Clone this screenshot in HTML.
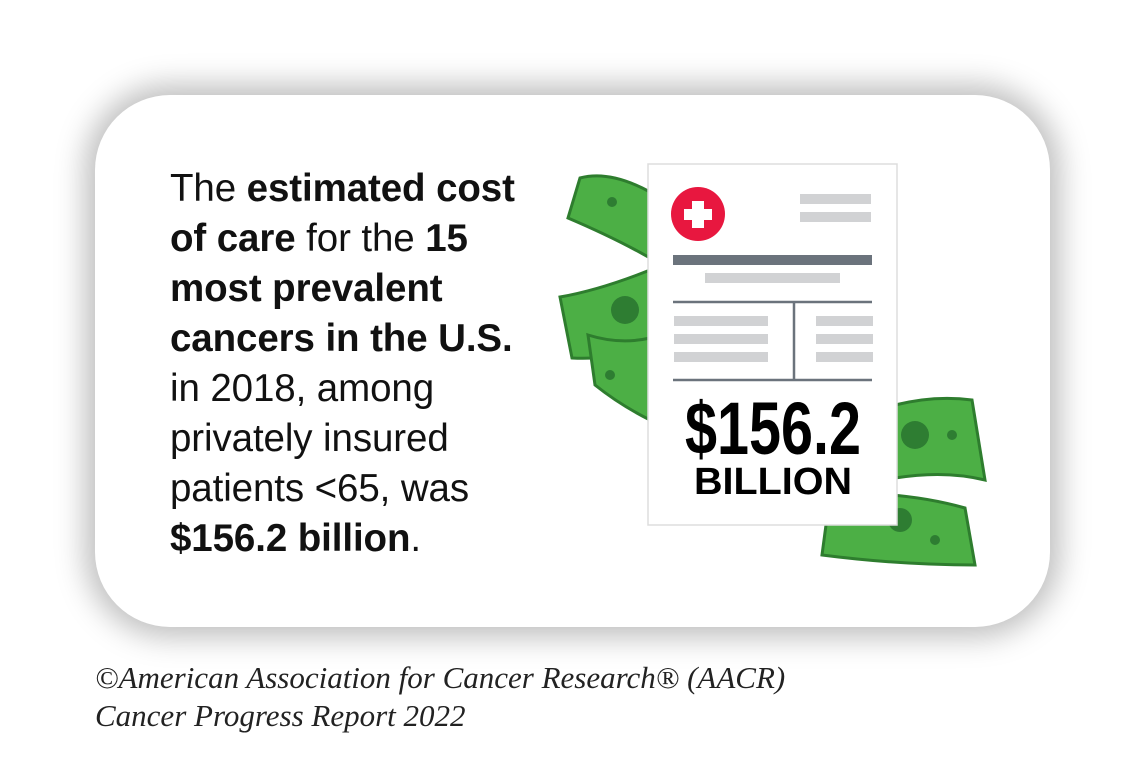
<!DOCTYPE html>
<html><head><style>
body{margin:0;width:1144px;height:769px;background:#fff;position:relative;overflow:hidden;font-family:"Liberation Sans",sans-serif}
.card{position:absolute;left:95px;top:95px;width:955px;height:532px;border-radius:75px;background:#fff;box-shadow:0 0 30px 10px rgba(0,0,0,0.26)}
.txt{position:absolute;left:170px;top:164px;font-size:38.5px;line-height:50px;color:#111;letter-spacing:-0.1px}
.txt b{font-weight:bold}
.cr{position:absolute;left:95px;top:659px;font-family:"Liberation Serif",serif;font-style:italic;font-size:31px;line-height:38px;color:#222}
svg{position:absolute;left:0;top:0}
</style></head><body>
<div class="card"></div>
<div class="txt">The <b>estimated cost<br>of care</b> for the <b>15<br>most prevalent<br>cancers in the U.S.</b><br>in 2018, among<br>privately insured<br>patients &lt;65, was<br><b>$156.2 billion</b>.</div>
<div class="cr">©American Association for Cancer Research® (AACR)<br>Cancer Progress Report 2022</div>
<svg width="1144" height="769">
<g fill="#4caf45" stroke="#2e7d2e" stroke-width="3">
<path d="M580 178 Q610 170 650 192 L650 258 Q615 238 568 218 Z"/>
<path d="M560 297 Q600 290 650 270 L650 348 Q610 360 572 358 Z"/>
<path d="M588 335 Q620 345 650 338 L650 420 Q620 405 595 385 Z"/>
<path d="M895 405 Q935 395 972 400 L985 480 Q945 470 895 478 Z"/>
<path d="M830 495 Q900 490 965 508 L975 565 Q900 565 822 555 Z"/>
</g>
<g fill="#2e7d32">
<circle cx="612" cy="202" r="5"/><circle cx="625" cy="310" r="14"/><circle cx="610" cy="375" r="5"/>
<circle cx="915" cy="435" r="14"/><circle cx="952" cy="435" r="5"/><circle cx="900" cy="520" r="12"/><circle cx="935" cy="540" r="5"/>
</g>
<rect x="648" y="164" width="249" height="361" fill="#fff" stroke="#ddd" stroke-width="1.5"/>
<circle cx="698" cy="214" r="27" fill="#e8173f"/>
<rect x="692" y="201" width="12" height="27" fill="#fff"/><rect x="684" y="209" width="28" height="11" fill="#fff"/>
<g fill="#d1d2d4">
<rect x="800" y="194" width="71" height="10"/><rect x="800" y="212" width="71" height="10"/>
<rect x="705" y="273" width="135" height="10"/>
<rect x="674" y="316" width="94" height="10"/><rect x="674" y="334" width="94" height="10"/><rect x="674" y="352" width="94" height="10"/>
<rect x="816" y="316" width="57" height="10"/><rect x="816" y="334" width="57" height="10"/><rect x="816" y="352" width="57" height="10"/>
</g>
<rect x="673" y="255" width="199" height="10" fill="#6b737c"/>
<g stroke="#6b737c" stroke-width="2.5"><line x1="673" y1="302" x2="872" y2="302"/><line x1="673" y1="380" x2="872" y2="380"/><line x1="794" y1="302" x2="794" y2="380"/></g>
<text x="685" y="454" font-family="Liberation Sans" font-weight="bold" font-size="74" textLength="176" lengthAdjust="spacingAndGlyphs" fill="#000">$156.2</text>
<text x="694" y="494" font-family="Liberation Sans" font-weight="bold" font-size="38" textLength="158" lengthAdjust="spacingAndGlyphs" fill="#000">BILLION</text>
</svg>
</body></html>
